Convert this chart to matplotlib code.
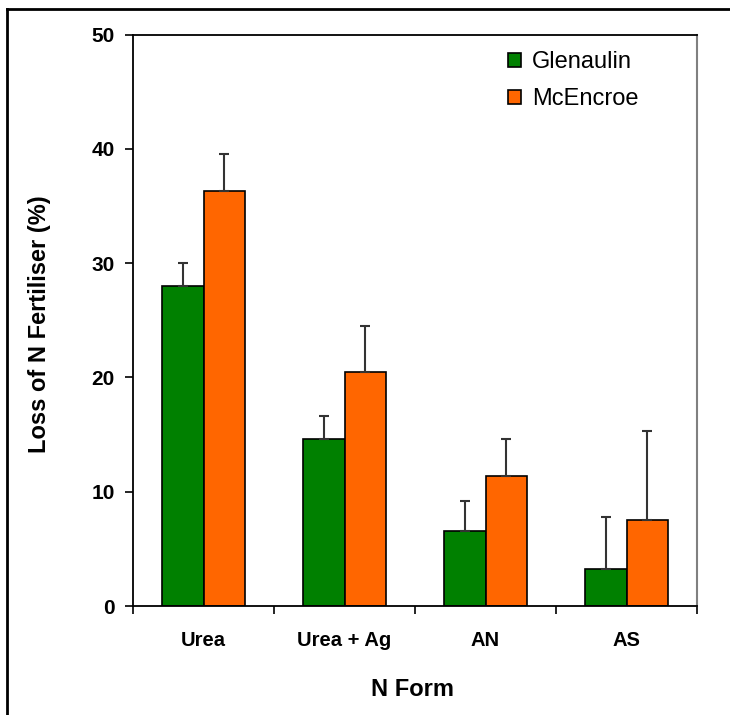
import numpy as np
import matplotlib
matplotlib.use("Agg")
import matplotlib.pyplot as plt
from matplotlib.lines import Line2D

plt.rcParams['font.family'] = ['Liberation Sans', 'DejaVu Sans']

# data
formas = ['Urea', 'Urea + Ag', 'AN', 'AS']
glenaulin = [28.0, 14.6, 6.6, 3.2]
glenaulin_err = [2.0, 2.0, 2.6, 4.6]
mcencroe = [36.3, 20.5, 11.4, 7.5]
mcencroe_err = [3.3, 4.0, 3.2, 7.8]

fig = plt.figure(figsize=(7.3, 7.15), dpi=100)
ax = fig.add_axes([0.1822, 0.1524, 0.7726, 0.7991])

x = np.arange(len(formas))
ancho = 0.294
err_kw = dict(ecolor='#333333', elinewidth=1.5, capsize=3.8, capthick=1.5)

ax.bar(x - ancho / 2, glenaulin, ancho, color='#008000', edgecolor='black',
       linewidth=1.2, label='Glenaulin',
       yerr=[np.zeros(len(x)), glenaulin_err], error_kw=err_kw, zorder=2)
ax.bar(x + ancho / 2, mcencroe, ancho, color='#FF6600', edgecolor='black',
       linewidth=1.2, label='McEncroe',
       yerr=[np.zeros(len(x)), mcencroe_err], error_kw=err_kw, zorder=2)

ax.set_xlim(-0.5, 3.5)
ax.set_ylim(0, 50)
ax.set_yticks([0, 10, 20, 30, 40, 50])
ax.tick_params(axis='y', direction='out', length=6, width=1.2, labelsize=15, pad=7)
for t in ax.get_yticklabels():
    t.set_fontweight('bold')

# ticks between categories, labels at the centres
ax.set_xticks(np.arange(-0.5, 4, 1))
ax.set_xticklabels([])
ax.set_xticks(x, minor=True)
ax.set_xticklabels(formas, minor=True, fontsize=14.5, fontweight='bold')
ax.tick_params(axis='x', which='major', direction='out', length=6, width=1.2)
ax.tick_params(axis='x', which='minor', length=0, pad=18)

for lado in ['left', 'bottom', 'top']:
    ax.spines[lado].set_color('black')
    ax.spines[lado].set_linewidth(1.3)
ax.spines['right'].set_color('#808080')
ax.spines['right'].set_linewidth(1.5)

ax.set_ylabel('Loss of N Fertiliser (%)', fontsize=17, fontweight='bold')
ax.yaxis.set_label_coords(51 / 730, 1 - 324 / 715, transform=fig.transFigure)
ax.set_xlabel('N Form', fontsize=17, fontweight='bold')
ax.xaxis.set_label_coords(413 / 730, 1 - 690 / 715, transform=fig.transFigure)
ax.xaxis.label.set_verticalalignment('center')

ax.legend(loc='upper left', bbox_to_anchor=(0.628, 1.008), frameon=False,
          fontsize=17, handlelength=0.55, handleheight=0.55,
          handletextpad=0.45, labelspacing=0.62)

# marco exterior (solo izquierda y arriba visibles)
fig.add_artist(Line2D([7 / 730, 7 / 730], [0, 1 - 9 / 715], color='black', lw=2,
                      transform=fig.transFigure))
fig.add_artist(Line2D([7 / 730, 1], [1 - 9 / 715, 1 - 9 / 715], color='black', lw=2,
                      transform=fig.transFigure))

fig.savefig('out.png', dpi=100)
